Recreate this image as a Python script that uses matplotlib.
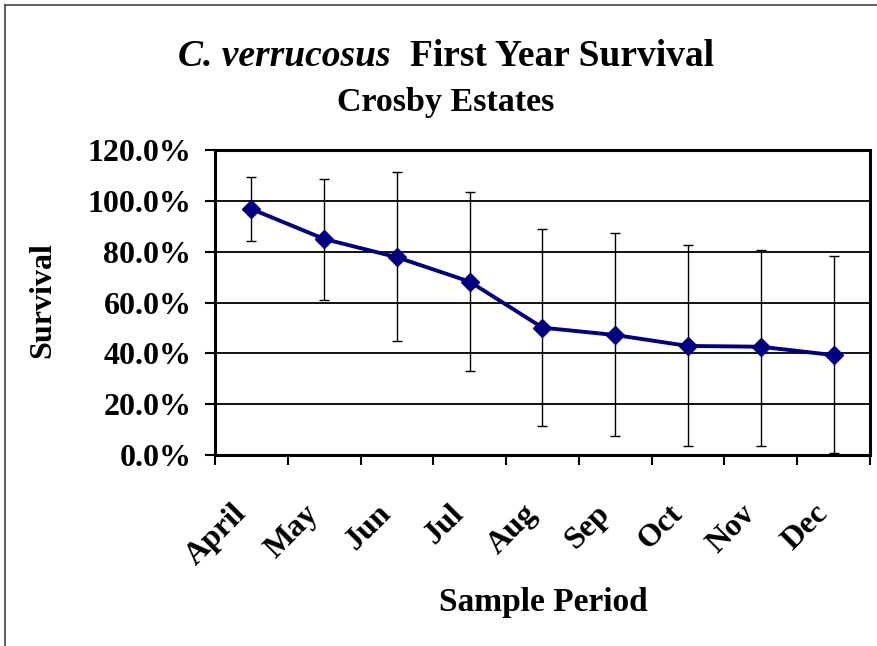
import numpy as np
import matplotlib
matplotlib.use("Agg")
import matplotlib.pyplot as plt
from matplotlib.lines import Line2D
from matplotlib.ticker import FixedLocator, FuncFormatter
from matplotlib.transforms import ScaledTranslation

# data
months = ["April", "May", "Jun", "Jul", "Aug", "Sep", "Oct", "Nov", "Dec"]
survival = [96.8, 85.0, 77.8, 68.2, 50.1, 47.2, 42.9, 42.6, 39.3]
err_low = [12.6, 24.0, 32.9, 35.3, 38.7, 39.6, 39.2, 38.9, 38.6]
err_high = [12.6, 23.5, 33.4, 35.4, 38.7, 40.1, 39.6, 38.2, 39.0]
yticks = [0, 20, 40, 60, 80, 100, 120]

plt.rcParams["font.family"] = "Liberation Serif"
plt.rcParams["font.weight"] = "bold"

W, H = 878, 646
fig = plt.figure(figsize=(W / 100, H / 100), dpi=100)
# axes box in pixels: x 215..870, y 150..455
ax = fig.add_axes([215 / W, 1 - 455 / H, (870 - 215) / W, (455 - 150) / H])

x = np.arange(len(months))
ax.errorbar(x, survival, yerr=[err_low, err_high], fmt="none",
            ecolor="black", elinewidth=1.0, capsize=3.3, capthick=1.0, zorder=2)
ax.plot(x, survival, color="#000080", lw=2.8, marker="D", ms=9,
        markerfacecolor="#000080", markeredgecolor="#000080", zorder=3)

ax.set_xlim(-0.5, len(months) - 0.5)
ax.set_ylim(0, 120)
ax.yaxis.set_major_locator(FixedLocator(yticks))
ax.yaxis.set_major_formatter(FuncFormatter(lambda v, p: f"{v:.1f}%"))
ax.grid(axis="y", color="black", lw=1.3)
ax.set_axisbelow(True)

ax.set_xticks(x)
ax.set_xticklabels(months, rotation=45, ha="right", rotation_mode="anchor")
ax.set_xticks(np.arange(-0.5, len(months)), minor=True)
ax.tick_params(axis="x", which="major", length=0, pad=34, labelsize=23)
ax.tick_params(axis="x", which="minor", length=7, width=1.5, direction="out")
ax.tick_params(axis="y", length=7, width=1.5, direction="out", pad=10, labelsize=23)
shift = ScaledTranslation(-0.20, 0.03, fig.dpi_scale_trans)
for lab in ax.get_xticklabels():
    lab.set_transform(lab.get_transform() + shift)

for s in ax.spines.values():
    s.set_linewidth(2.2)
    s.set_color("black")

fig.text(43 / W, 1 - 300 / H, "Survival", fontsize=23, weight="bold",
         rotation=90, ha="center", va="center")
fig.text(543 / W, 1 - 603 / H, "Sample Period", fontsize=24, weight="bold",
         ha="center", va="center")

# title with italic species name
fig.canvas.draw()
r = fig.canvas.get_renderer()
t1 = fig.text(0, 1 - 57 / H, "C. verrucosus  ", fontsize=27, style="italic",
              weight="bold", va="center", ha="left")
t2 = fig.text(0, 1 - 57 / H, "First Year Survival", fontsize=27,
              weight="bold", va="center", ha="left")
w1 = t1.get_window_extent(r).width
w2 = t2.get_window_extent(r).width
x0 = 446 - (w1 + w2) / 2
t1.set_x(x0 / W)
t2.set_x((x0 + w1) / W)
fig.text(446 / W, 1 - 102 / H, "Crosby Estates", fontsize=24.5, weight="bold",
         va="center", ha="center")

# chart frame (only left and top visible in the reference)
fig.add_artist(Line2D([5 / W, 5 / W], [0, 1 - 5 / H], color="#444444", lw=1.2))
fig.add_artist(Line2D([5 / W, 1], [1 - 5 / H, 1 - 5 / H], color="#444444", lw=1.2))

fig.savefig("out.png", dpi=100)
